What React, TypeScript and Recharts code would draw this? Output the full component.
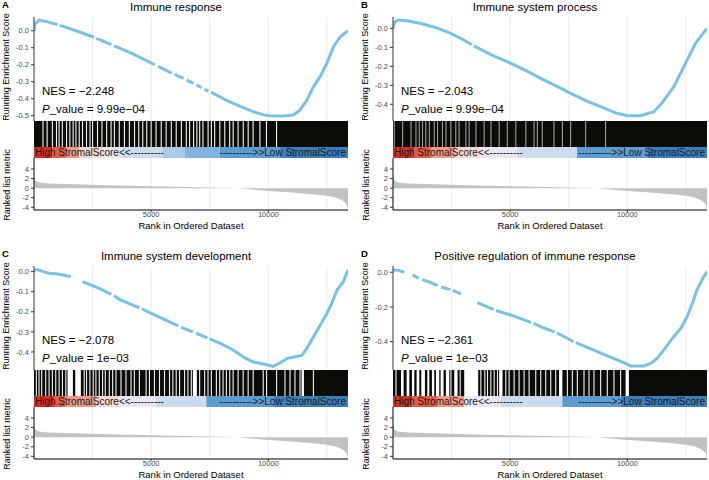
import React from "react";
import {
  LineChart,
  Line,
  AreaChart,
  Area,
  ComposedChart,
  XAxis,
  YAxis,
  CartesianGrid,
  ReferenceArea,
  ReferenceLine,
} from "recharts";

const FONT = "'Liberation Sans', Arial, Helvetica, sans-serif";

// ---- data ----
const N_GENES = 13400;
const gridRanks = [2500, 5000, 7500, 10000, 12500];
const rankTicks = [5000, 10000];
const metricTicks = [-4, -2, 0, 2, 4];

const panelLetters = ["A", "B", "C", "D"];
const panelTitles = [
  "Immune response",
  "Immune system process",
  "Immune system development",
  "Positive regulation of immune response",
];
const nesLabels = ["\u22122.248", "\u22122.043", "\u22122.078", "\u22122.361"];
const pLabels = ["9.99e\u221204", "9.99e\u221204", "1e\u221203", "1e\u221203"];

const esTicksA = [0, -0.1, -0.2, -0.3, -0.4, -0.5];
const esTicksB = [0, -0.1, -0.2, -0.3, -0.4];
const esTicksC = [0, -0.1, -0.2, -0.3, -0.4];
const esTicksD = [0, -0.2, -0.4];

const esDomainA = [-0.531, 0.081];
const esDomainB = [-0.488, 0.06];
const esDomainC = [-0.49, 0.028];
const esDomainD = [-0.563, 0.036];

// running enrichment score [rank, score]; null = break in the dotted curve
const esA: [number, number | null][] = [
  [0, 0.0], [40, 0.04], [214, 0.063], [500, 0.055], [1000, 0.036], [1050, null],
  [1100, 0.032], [1500, 0.014], [2000, -0.01], [2560, -0.038], [2610, null],
  [2660, -0.045], [3300, -0.082], [3360, null], [3420, -0.089], [4200, -0.135],
  [5150, -0.2], [5220, null], [5300, -0.21], [5880, -0.25], [5940, null],
  [6000, -0.256], [6380, -0.28], [6450, null], [6520, -0.29], [6800, -0.31],
  [6860, null], [6930, -0.32], [7150, -0.335], [7210, null], [7280, -0.345],
  [7450, -0.355], [7500, null], [7560, -0.362], [8215, -0.41], [8800, -0.445],
  [9355, -0.476], [9800, -0.495], [10070, -0.5], [10600, -0.502], [11070, -0.496],
  [11355, -0.466], [11640, -0.41], [11925, -0.33], [12210, -0.27], [12500, -0.19],
  [12783, -0.094], [13070, -0.035], [13400, 0.0],
];
const esB: [number, number | null][] = [
  [0, 0.0], [60, 0.03], [200, 0.044], [600, 0.04], [1190, 0.026], [1800, 0.005],
  [2470, -0.026], [3000, -0.06], [3350, -0.085], [3400, null], [3450, -0.092],
  [4200, -0.14], [5030, -0.184], [5700, -0.224], [6300, -0.263], [7000, -0.306],
  [7580, -0.342], [8300, -0.385], [8860, -0.412], [9500, -0.445], [10000, -0.46],
  [10560, -0.46], [10900, -0.447], [11130, -0.44], [11500, -0.39], [11980, -0.307],
  [12300, -0.23], [12550, -0.167], [12900, -0.08], [13400, 0.0],
];
const esC: [number, number | null][] = [
  [0, 0.005], [150, 0.01], [400, 0.0], [640, -0.008], [1000, -0.012], [1300, -0.018],
  [1570, -0.025], [1800, null], [2070, -0.05], [2785, -0.083], [3300, -0.113],
  [3360, null], [3420, -0.12], [3640, -0.138], [4500, -0.18], [4550, null],
  [4600, -0.185], [5000, -0.208], [5600, -0.24], [6150, -0.27], [6210, null],
  [6280, -0.277], [6780, -0.3], [6850, null], [6920, -0.307], [7400, -0.33],
  [7450, null], [7500, -0.335], [8000, -0.36], [8500, -0.39], [9000, -0.43],
  [9355, -0.45], [9800, -0.46], [10210, -0.472], [10500, -0.455], [10785, -0.433],
  [11100, -0.425], [11430, -0.417], [11600, -0.39], [11925, -0.325], [12200, -0.27],
  [12500, -0.208], [12700, -0.16], [12930, -0.092], [13200, -0.05], [13400, 0.008],
];
const esD: [number, number | null][] = [
  [0, 0.013], [200, 0.012], [480, 0.0], [650, null], [835, -0.015], [1100, -0.035],
  [1175, null], [1250, -0.042], [1620, -0.06], [1900, -0.077], [1975, null],
  [2050, -0.085], [2450, -0.1], [2500, null], [2550, -0.105], [2900, -0.125],
  [3250, null], [3600, -0.175], [4300, -0.215], [4350, null], [4400, -0.22],
  [5030, -0.246], [5900, -0.29], [5950, null], [6000, -0.295], [6300, -0.313],
  [6900, -0.345], [6950, null], [7000, -0.35], [7440, -0.38], [7700, -0.4],
  [7750, null], [7800, -0.405], [8575, -0.448], [9300, -0.49], [9925, -0.525],
  [10140, -0.54], [10710, -0.54], [11000, -0.525], [11270, -0.496], [11600, -0.44],
  [11980, -0.371], [12300, -0.32], [12550, -0.256], [12800, -0.17], [12980, -0.1],
  [13200, -0.04], [13400, 0.004],
];

// barcode: thin white gaps between hits, and wider hit-free stretches
const gapsA = [
  385, 560, 785, 960, 1070, 1210, 1390, 1530, 1670, 1790, 1930, 2070, 2240, 2390,
  2500, 2710, 2900, 3100, 3290, 3430, 3640, 3860, 4070, 4290, 4470, 4640, 4810,
  5000, 5210, 5430, 5640, 5860, 6070, 6290, 6500, 6640, 6810, 6950, 7070, 7210,
  7430, 7570, 7710, 7930, 8140, 8350, 8500, 8710, 8930, 9140, 9350, 9640, 9920, 10350,
];
const openA: [number, number][] = [];
const gapsB = [
  55, 410, 770, 980, 1120, 1260, 1400, 1550, 1760, 1900, 2110, 2260, 2470, 2680,
  2820, 3110, 3250, 3540, 3890, 4180, 4530, 4880, 5240, 5670, 6020, 6160, 6370,
  6870, 7230, 7580, 8220, 9070,
];
const openB: [number, number][] = [];
const gapsC = [
  100, 214, 328, 500, 643, 785, 928, 1071, 1214, 1357, 2142, 2242, 2385, 2528, 2642,
  2785, 2927, 3042, 3213, 3356, 3499, 3713, 3927, 4141, 4284, 4498, 4784, 4927, 5141,
  5355, 5569, 5783, 5926, 6069, 6212, 6426, 6569, 6712, 7069, 7283, 7426, 7568, 7783,
  7925, 8068, 8211, 8354, 8497, 8711, 8925, 9139, 9353, 9782, 9925, 10353, 10710,
  10924, 11138, 11353, 11924,
];
const openC: [number, number][] = [
  [1430, 1660], [1760, 2000], [6780, 6950], [11420, 11520],
];
const gapsD = [
  128, 2471, 2868, 3749, 3919, 4033, 4175, 4317, 4459, 4814, 4956, 5169, 5382, 5595,
  5808, 6092, 6305, 6518, 6731, 6944, 7441, 7654, 7867, 8151, 8364, 8577, 8861, 9145,
  9429, 9713,
];
const openD: [number, number][] = [
  [341, 454], [582, 696], [809, 909], [1008, 1122], [1207, 1363], [1463, 1548],
  [1661, 1761], [1832, 1974], [2031, 2158], [2258, 2400], [2613, 2755], [3039, 3635],
  [4530, 4672], [7086, 7228], [9926, 10068],
];

// colour strip: [from rank, to rank, level]
const stripPalette = [
  "#D42E22", "#E35A47", "#EF9A88", "#F6D8D1", "#E8E8F2",
  "#CCDCEC", "#ADCAE5", "#82B3DC", "#5D9CD1", "#3C7EBA",
];
const stripA: [number, number, number][] = [
  [0, 770, 0], [770, 1370, 1], [1370, 1930, 2], [1930, 3000, 3], [3000, 3730, 4],
  [3730, 5480, 5], [5480, 6430, 6], [6430, 7930, 7], [7930, 10500, 8], [10500, 13400, 9],
];
const stripB: [number, number, number][] = [
  [0, 900, 0], [900, 1620, 1], [1620, 2680, 2], [2680, 3680, 3], [3680, 5300, 4],
  [5300, 7850, 5], [7850, 10850, 8], [10850, 13400, 9],
];
const stripC: [number, number, number][] = [
  [0, 857, 0], [857, 1357, 1], [1357, 2642, 2], [2642, 3641, 3], [3641, 5212, 4],
  [5212, 7354, 5], [7354, 10210, 8], [10210, 13400, 9],
];
const stripD: [number, number, number][] = [
  [0, 838, 0], [838, 1903, 1], [1903, 3039, 2], [3039, 4601, 4], [4601, 7228, 5],
  [7228, 9713, 8], [9713, 13400, 9],
];

// ranked list metric [rank, metric]
const rankedMetric: [number, number][] = [
  [0, 3.0], [15, 2.4], [45, 1.8], [100, 1.45], [214, 1.2], [400, 1.08], [640, 1.0],
  [1360, 0.88], [2785, 0.68], [4000, 0.5], [5000, 0.38], [6000, 0.28], [7000, 0.18],
  [8000, 0.08], [8700, 0.0], [9300, -0.3], [10000, -0.6], [11000, -0.9],
  [12000, -1.3], [12500, -1.6], [12900, -2.0], [13150, -2.5], [13300, -3.1],
  [13370, -3.8], [13400, -4.5],
];

const panels = [
  { es: esA, dom: esDomainA, ticks: esTicksA, gaps: gapsA, open: openA, strip: stripA },
  { es: esB, dom: esDomainB, ticks: esTicksB, gaps: gapsB, open: openB, strip: stripB },
  { es: esC, dom: esDomainC, ticks: esTicksC, gaps: gapsC, open: openC, strip: stripC },
  { es: esD, dom: esDomainD, ticks: esTicksD, gaps: gapsD, open: openD, strip: stripD },
].map((p, i) => ({
  ...p,
  letter: panelLetters[i],
  title: panelTitles[i],
  nes: nesLabels[i],
  pval: pLabels[i],
}));

// ---- layout ----
const PLOT_LEFT = 34;
const PLOT_W = 314;
const CHART_W = PLOT_LEFT + PLOT_W;
const PANEL_POS = [
  [0, 0],
  [359, 0],
  [0, 249],
  [359, 249],
];
// B's barcode gaps look greyer (half-covered) in the original
const GAP_OPACITY = [0.95, 0.6, 0.95, 0.95];
const ZERO_MARGIN = { top: 0, right: 0, bottom: 0, left: 0 };
const tickStyle = { fontSize: 7.5, fill: "#4D4D4D", fontFamily: FONT };
// two points spanning the rank axis, so the band charts have a domain to hang on
const spanRows = [
  { x: 0, y: 0.5 },
  { x: N_GENES, y: 0.5 },
];

const abs = (left: number, top: number, extra: React.CSSProperties = {}): React.CSSProperties => ({
  position: "absolute",
  left,
  top,
  whiteSpace: "nowrap",
  ...extra,
});

const EsPlot = ({ data, domain, ticks }: { data: [number, number | null][]; domain: number[]; ticks: number[] }) => {
  const rows = data.map(([x, y]) => ({ x, y }));
  return (
    <LineChart width={CHART_W} height={104} data={rows} margin={ZERO_MARGIN}>
      <CartesianGrid horizontal={false} verticalValues={gridRanks} stroke="#EBEBEB" />
      <XAxis type="number" dataKey="x" domain={[0, N_GENES]} hide allowDataOverflow />
      <YAxis
        type="number"
        domain={domain}
        ticks={ticks}
        interval={0}
        allowDataOverflow
        width={PLOT_LEFT}
        tickFormatter={(v: number) => v.toFixed(1)}
        tick={tickStyle}
        tickSize={3}
        tickMargin={2}
        axisLine={{ stroke: "#333" }}
        tickLine={{ stroke: "#333" }}
      />
      <Line
        type="linear"
        dataKey="y"
        stroke="#79C2E6"
        strokeWidth={3}
        dot={false}
        connectNulls={false}
        isAnimationActive={false}
      />
    </LineChart>
  );
};

const Barcode = ({ gaps, open, opacity }: { gaps: number[]; open: [number, number][]; opacity: number }) => (
  <ComposedChart width={CHART_W} height={26} data={spanRows} margin={{ ...ZERO_MARGIN, left: PLOT_LEFT }}>
    <XAxis type="number" dataKey="x" domain={[0, N_GENES]} hide allowDataOverflow />
    <YAxis type="number" domain={[0, 1]} hide allowDataOverflow />
    <Line dataKey="y" stroke="none" dot={false} isAnimationActive={false} />
    <ReferenceArea x1={0} x2={N_GENES} y1={0} y2={1} fill="#0C0B08" fillOpacity={1} stroke="none" />
    {open.map(([a, b], i) => (
      <ReferenceArea key={`o${i}`} x1={a} x2={b} y1={0} y2={1} fill="#FFFFFF" fillOpacity={1} stroke="none" />
    ))}
    {gaps.map((g, i) => (
      <ReferenceLine key={`g${i}`} x={g} stroke="#FFFFFF" strokeWidth={1.1} strokeOpacity={opacity} />
    ))}
  </ComposedChart>
);

const Strip = ({ strip }: { strip: [number, number, number][] }) => (
  <ComposedChart width={CHART_W} height={11} data={spanRows} margin={{ ...ZERO_MARGIN, left: PLOT_LEFT }}>
    <XAxis type="number" dataKey="x" domain={[0, N_GENES]} hide allowDataOverflow />
    <YAxis type="number" domain={[0, 1]} hide allowDataOverflow />
    <Line dataKey="y" stroke="none" dot={false} isAnimationActive={false} />
    {strip.map(([a, b, lvl], i) => (
      <ReferenceArea key={`s${i}`} x1={a} x2={b} y1={0} y2={1} fill={stripPalette[lvl]} fillOpacity={1} stroke="none" />
    ))}
  </ComposedChart>
);

const RankedPlot = () => {
  const rows = rankedMetric.map(([x, y]) => ({ x, y }));
  return (
    <AreaChart width={CHART_W} height={64} data={rows} margin={ZERO_MARGIN}>
      <CartesianGrid horizontal={false} verticalValues={gridRanks} stroke="#EBEBEB" />
      <XAxis
        type="number"
        dataKey="x"
        domain={[0, N_GENES]}
        ticks={rankTicks}
        interval={0}
        allowDataOverflow
        height={12}
        tickSize={2}
        tickMargin={0}
        tick={tickStyle}
        axisLine={{ stroke: "#000" }}
        tickLine={{ stroke: "#333" }}
      />
      <YAxis
        type="number"
        domain={[-4.56, 6.3]}
        ticks={metricTicks}
        interval={0}
        allowDataOverflow
        width={PLOT_LEFT}
        tickSize={3}
        tickMargin={2}
        tick={tickStyle}
        axisLine={{ stroke: "#000" }}
        tickLine={{ stroke: "#333" }}
      />
      <Area
        type="linear"
        dataKey="y"
        baseValue={0}
        fill="#C2C2C2"
        fillOpacity={1}
        stroke="none"
        isAnimationActive={false}
      />
    </AreaChart>
  );
};

const RotLabel = ({ cx, cy, text }: { cx: number; cy: number; text: string }) => (
  <div
    style={abs(cx - 70, cy - 6, {
      width: 140,
      height: 12,
      lineHeight: "12px",
      fontSize: 9,
      textAlign: "center",
      transform: "rotate(-90deg)",
    })}
  >
    {text}
  </div>
);

const Panel = ({ left, top, p, gapOpacity }: { left: number; top: number; p: (typeof panels)[number]; gapOpacity: number }) => (
  <div style={{ position: "absolute", left, top, width: 352, height: 232 }}>
    <div style={abs(2, 0, { fontSize: 9.5, fontWeight: "bold", lineHeight: "10px" })}>{p.letter}</div>
    <div style={abs(0, 0, { width: 352, textAlign: "center", fontSize: 11.5, lineHeight: "14px" })}>
      {p.title}
    </div>
    <RotLabel cx={6} cy={67} text="Running Enrichment Score" />
    <RotLabel cx={6.5} cy={185} text="Ranked list metric" />

    <div style={abs(0, 17)}>
      <EsPlot data={p.es} domain={p.dom} ticks={p.ticks} />
    </div>
    <div style={abs(42, 84, { fontSize: 11.5, lineHeight: "14px" })}>NES = {p.nes}</div>
    <div style={abs(42, 101.5, { fontSize: 11.5, lineHeight: "14px" })}>
      <i>P</i>_value = {p.pval}
    </div>

    <div style={abs(0, 121)}>
      <Barcode gaps={p.gaps} open={p.open} opacity={gapOpacity} />
    </div>
    <div style={abs(0, 147)}>
      <Strip strip={p.strip} />
    </div>
    <div style={abs(35, 147, { fontSize: 10, lineHeight: "11px", color: "#1A1A1A" })}>
      High StromalScore{"<<----------"}
    </div>
    <div
      style={abs(CHART_W - 2 - 200, 147, {
        width: 200,
        textAlign: "right",
        fontSize: 10,
        lineHeight: "11px",
        color: "#1A1A1A",
      })}
    >
      {"---------->>"}Low StromalScore
    </div>

    <div style={abs(0, 158)}>
      <RankedPlot />
    </div>
    <div style={abs(PLOT_LEFT + PLOT_W / 2 - 100, 218.5, { width: 200, textAlign: "center", fontSize: 9.5, lineHeight: "13px" })}>
      Rank in Ordered Dataset
    </div>
  </div>
);

export default function App() {
  return (
    <div
      style={{
        position: "absolute",
        left: 0,
        top: 0,
        width: 709,
        height: 480,
        background: "#FFFFFF",
        fontFamily: FONT,
        color: "#000",
        overflow: "hidden",
      }}
    >
      {panels.map((p, i) => (
        <Panel key={p.letter} left={PANEL_POS[i][0]} top={PANEL_POS[i][1]} p={p} gapOpacity={GAP_OPACITY[i]} />
      ))}
    </div>
  );
}
